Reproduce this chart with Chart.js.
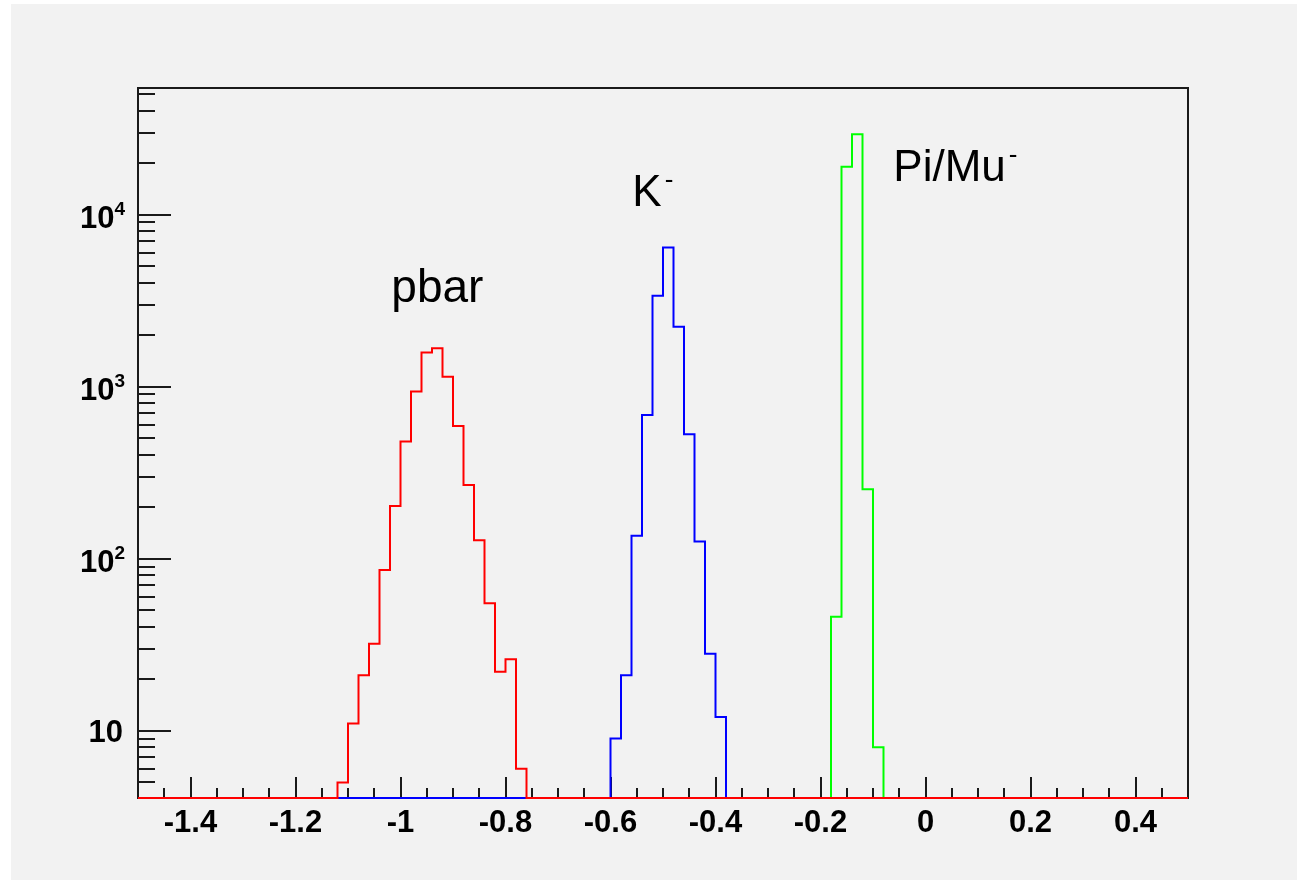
<!DOCTYPE html>
<html>
<head>
<meta charset="utf-8">
<title>pbar / K- / Pi/Mu- histograms</title>
<script src="https://cdn.jsdelivr.net/npm/chart.js@4.4.1/dist/chart.umd.min.js"></script>
<style>
  html, body { margin: 0; padding: 0; background: #ffffff; }
  canvas { display: block; }
</style>
</head>
<body>
<canvas id="chart" width="1301" height="883"></canvas>
<script>
// bin edges (x) and bin contents (y) for each species
const pbarEdges = [-1.12, -1.10, -1.08, -1.06, -1.04, -1.02, -1.00, -0.98, -0.96, -0.94, -0.92, -0.90, -0.88, -0.86, -0.84, -0.82, -0.80, -0.78, -0.76];
const pbarCounts = [5, 11, 21, 32, 86, 202, 479, 936, 1580, 1670, 1140, 590, 268, 128, 55, 22, 26, 6];
const kaonEdges = [-0.60, -0.58, -0.56, -0.54, -0.52, -0.50, -0.48, -0.46, -0.44, -0.42, -0.40, -0.38];
const kaonCounts = [9, 21, 136, 685, 3370, 6430, 2230, 529, 126, 28, 12];
const pionEdges = [-0.18, -0.16, -0.14, -0.12, -0.10, -0.08];
const pionCounts = [46, 19000, 29300, 253, 8];

const xRange = [-1.5, 0.5];
const yRange = [4.06, 54450];
const xTickValues = [-1.4, -1.2, -1.0, -0.8, -0.6, -0.4, -0.2, 0, 0.2, 0.4];
const xTickLabels = ['-1.4', '-1.2', '-1', '-0.8', '-0.6', '-0.4', '-0.2', '0', '0.2', '0.4'];
const yTickValues = [10, 100, 1000, 10000];
const yTickBase = ['10', '10', '10', '10'];
const yTickExp = ['', '2', '3', '4'];

const fontFamily = '"Liberation Sans", Arial, sans-serif';
const tickFont = { family: fontFamily, size: 31, weight: 'bold' };

// step outline of a histogram; empty bins lie on the axis floor
function histPoints(edges, counts) {
  const floor = yRange[0];
  const pts = [{ x: xRange[0], y: floor }, { x: edges[0], y: floor }];
  counts.forEach((c, i) => {
    pts.push({ x: edges[i], y: c });
    pts.push({ x: edges[i + 1], y: c });
  });
  pts.push({ x: edges[edges.length - 1], y: floor });
  pts.push({ x: xRange[1], y: floor });
  return pts;
}

function histDataset(edges, counts, color) {
  return {
    data: histPoints(edges, counts),
    borderColor: color,
    borderWidth: 2,
    pointRadius: 0,
    fill: false,
    tension: 0,
    clip: 4
  };
}

function drawLabel(ctx, text, sup, px, py, size) {
  ctx.font = size + 'px ' + fontFamily;
  ctx.fillText(text, px, py);
  if (sup) {
    const w = ctx.measureText(text).width;
    ctx.font = '26px ' + fontFamily;
    ctx.fillText(sup, px + w + 3, py - 18);
  }
}

// ROOT-like frame: box, inward ticks, grey pad, text labels
const rootFrame = {
  id: 'rootFrame',
  beforeDraw(chart) {
    const ctx = chart.ctx;
    ctx.save();
    ctx.fillStyle = '#f2f2f2';
    ctx.fillRect(11, 4, 1286, 876);
    ctx.restore();
  },
  beforeDatasetsDraw(chart) {
    const { ctx, chartArea: a, scales: { x, y } } = chart;
    ctx.save();
    ctx.strokeStyle = '#1a1a1a';
    ctx.lineWidth = 2;
    ctx.strokeRect(a.left, a.top, a.right - a.left, a.bottom - a.top);

    ctx.beginPath();
    // x: major every 0.2, minor every 0.05
    for (let i = 1; i < 40; i++) {
      const px = Math.round(x.getPixelForValue(xRange[0] + i * 0.05));
      const len = i % 4 === 2 ? 21 : 10;
      ctx.moveTo(px, a.bottom);
      ctx.lineTo(px, a.bottom - len);
    }
    // y: log decades with 2..9 minors
    for (let e = 0; e <= 4; e++) {
      for (let m = 1; m <= 9; m++) {
        const v = m * Math.pow(10, e);
        if (v <= yRange[0] || v >= yRange[1]) continue;
        const py = Math.round(y.getPixelForValue(v));
        const len = m === 1 ? 33 : 17;
        ctx.moveTo(a.left, py);
        ctx.lineTo(a.left + len, py);
      }
    }
    ctx.stroke();

    // y labels, 10 with a raised exponent
    ctx.fillStyle = '#000000';
    ctx.textAlign = 'right';
    ctx.textBaseline = 'alphabetic';
    yTickValues.forEach((v, i) => {
      const py = y.getPixelForValue(v);
      const right = a.left - 13;
      if (yTickExp[i]) {
        ctx.font = 'bold 19px ' + fontFamily;
        ctx.fillText(yTickExp[i], right, py);
        const w = ctx.measureText(yTickExp[i]).width;
        ctx.font = 'bold 31px ' + fontFamily;
        ctx.fillText(yTickBase[i], right - w, py + 13);
      } else {
        ctx.font = 'bold 31px ' + fontFamily;
        ctx.fillText(yTickBase[i], right - 2, py + 11);
      }
    });
    ctx.restore();
  },
  afterDatasetsDraw(chart) {
    const { ctx, scales: { x, y } } = chart;
    ctx.save();
    ctx.fillStyle = '#000000';
    ctx.textAlign = 'left';
    ctx.textBaseline = 'alphabetic';
    drawLabel(ctx, 'pbar', '', x.getPixelForValue(-1.0175), y.getPixelForValue(3090), 46);
    drawLabel(ctx, 'K', '-', x.getPixelForValue(-0.5585), y.getPixelForValue(11170), 44);
    drawLabel(ctx, 'Pi/Mu', '-', x.getPixelForValue(-0.0613), y.getPixelForValue(15620), 44);
    ctx.restore();
  }
};

new Chart(document.getElementById('chart'), {
  type: 'line',
  data: {
    datasets: [
      histDataset(pbarEdges, pbarCounts, '#ff0000'),
      histDataset(kaonEdges, kaonCounts, '#0000ff'),
      histDataset(pionEdges, pionCounts, '#00ff00')
    ]
  },
  options: {
    responsive: false,
    animation: false,
    events: [],
    layout: { padding: { left: 0, top: 88, right: 113, bottom: 0 } },
    plugins: { legend: { display: false }, tooltip: { enabled: false } },
    scales: {
      x: {
        type: 'linear',
        min: xRange[0],
        max: xRange[1],
        grid: { display: false, drawTicks: false },
        border: { display: false },
        afterBuildTicks: (s) => { s.ticks = xTickValues.map(v => ({ value: v })); },
        afterFit: (s) => { s.height = 85; },
        ticks: {
          autoSkip: false,
          maxRotation: 0,
          padding: 7,
          color: '#000000',
          font: tickFont,
          callback: (v, i) => xTickLabels[i]
        }
      },
      y: {
        type: 'logarithmic',
        min: yRange[0],
        max: yRange[1],
        grid: { display: false, drawTicks: false },
        border: { display: false },
        afterBuildTicks: (s) => { s.ticks = yTickValues.map(v => ({ value: v })); },
        afterFit: (s) => { s.width = 138; },
        ticks: { display: false }
      }
    }
  },
  plugins: [rootFrame]
});
</script>
</body>
</html>
